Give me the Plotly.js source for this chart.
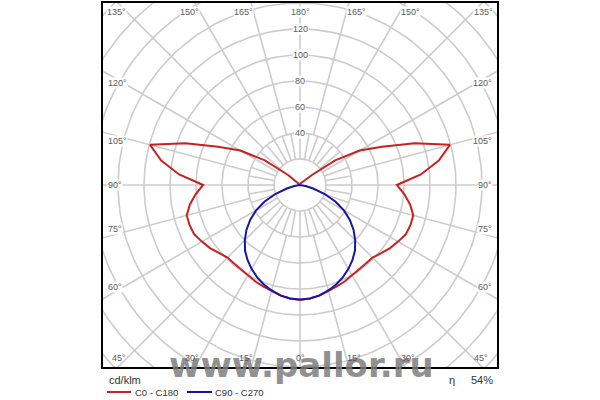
<!DOCTYPE html>
<html>
<head>
<meta charset="utf-8">
<script src="https://cdn.plot.ly/plotly-3.0.1.min.js"></script>
<style>html,body{margin:0;padding:0;background:#fff;}#chart{width:600px;height:400px;}</style>
</head>
<body>
<div id="chart"></div>
<script>
// ---------------- data ----------------
const gammaAngles = [0,5,10,15,20,25,30,35,40,45,50,55,60,65,70,75,80,85,90,95,100,105,110,115,120,125,130,135,140,145,150,155,160,165,170,175,180];
const c0c180 = [88.5,87.6,86.4,84.6,83.0,81.7,80.4,79.2,78.8,78.9,81.6,84.6,87.1,89.8,90.4,90.2,86.0,80.5,74.5,93.3,108.4,119.4,93.8,69.5,53.0,33.0,12.0,2.0,1,1,1,1,1,1,1,1,1];
const c90c270 = [88.0,87.6,86.2,84.0,81.4,78.2,74.5,70.4,65.8,60.0,53.8,46.8,39.0,30.0,19.8,10.5,4.5,1.5,0.5,0,0,0,0,0,0,0,0,0,0,0,0,0,0,0,0,0,0];
const seriesNames = ['C0 - C180', 'C90 - C270'];
const seriesColors = ['#c62222', '#1616a2'];
const radialTickValues = [40, 60, 80, 100, 120];
const gridRadii = [20, 40, 60, 80, 100, 120, 140, 160, 180, 200];
const angleTickValues = [0, 15, 30, 45, 60, 75, 90, 105, 120, 135, 150, 165, 180];
const innerSpokeStep = 10;
const unitLabel = 'cd/klm';
const efficiencyLabel = '\u03B7';
const efficiencyValue = '54%';
const watermarkText = 'www.pallor.ru';

// ---------------- geometry ----------------
const PL = 103, PR = 497, PT = 3, PB = 367, CX = 300, CY = 185, K = 1.3;
const xp = px => (px - PL) / (PR - PL);
const yp = py => (PB - py) / (PB - PT);
const rad = g => g * Math.PI / 180;

function halfCurve(vals, side) {
  const xs = [], ys = [];
  gammaAngles.forEach((g, i) => { xs.push(side * vals[i] * Math.sin(rad(g))); ys.push(-vals[i] * Math.cos(rad(g))); });
  return {xs, ys};
}
function fullCurve(vals) {
  const r = halfCurve(vals, 1), l = halfCurve(vals, -1);
  return {x: r.xs.concat(l.xs.slice().reverse()), y: r.ys.concat(l.ys.slice().reverse())};
}

// grid
const gx = [], gy = [];
gridRadii.forEach(R => {
  for (let a = 0; a <= 360; a += 2) { gx.push(R * Math.sin(rad(a))); gy.push(-R * Math.cos(rad(a))); }
  gx.push(null); gy.push(null);
});
for (let a = 0; a < 360; a += 15) {
  gx.push(40 * Math.sin(rad(a)), 300 * Math.sin(rad(a)), null);
  gy.push(-40 * Math.cos(rad(a)), -300 * Math.cos(rad(a)), null);
}
for (let a = 0; a < 360; a += innerSpokeStep) {
  gx.push(20 * Math.sin(rad(a)), 40 * Math.sin(rad(a)), null);
  gy.push(-20 * Math.cos(rad(a)), -40 * Math.cos(rad(a)), null);
}

const red = fullCurve(c0c180), blue = fullCurve(c90c270);
const traces = [
  {x: gx, y: gy, type: 'scatter', mode: 'lines', line: {color: '#cccccc', width: 1.6}, hoverinfo: 'skip', showlegend: false},
  {x: red.x, y: red.y, type: 'scatter', mode: 'lines', name: seriesNames[0], line: {color: seriesColors[0], width: 2}, showlegend: false},
  {x: blue.x, y: blue.y, type: 'scatter', mode: 'lines', name: seriesNames[1], line: {color: seriesColors[1], width: 2}, showlegend: false}
];

// annotations
const ann = [];
// watermark (behind labels)
ann.push({xref: 'paper', yref: 'paper', x: xp(301), y: yp(365), text: '<b>' + watermarkText + '</b>', showarrow: false,
  xanchor: 'center', yanchor: 'middle', font: {family: 'DejaVu Sans, sans-serif', size: 34, color: 'rgba(125,125,125,0.85)'}});

const labFont = {family: 'Liberation Sans, Arial, sans-serif', size: 9, color: '#5a5a5a'};
radialTickValues.forEach(v => {
  ann.push({xref: 'paper', yref: 'paper', x: xp(CX), y: yp(CY - v * K), text: String(v), showarrow: false,
    xanchor: 'center', yanchor: 'middle', font: labFont, bgcolor: '#ffffff', borderpad: 0});
});
angleTickValues.forEach(g => {
  const sides = (g === 0 || g === 180) ? [0] : [-1, 1];
  sides.forEach(side => {
    let px, py, xa, ya;
    if (g >= 135 || g <= 45) {
      py = g >= 135 ? 11.7 : 358;
      const t = (py - CY) / Math.cos(rad(g));
      px = CX + side * t * Math.sin(rad(g));
      xa = side < 0 ? 'right' : (side > 0 ? 'left' : 'center');
      ya = 'middle';
    } else {
      px = side < 0 ? 107 : 493;
      py = CY + 187 * Math.cos(rad(g)) / Math.sin(rad(g));
      xa = side < 0 ? 'left' : 'right';
      ya = g > 90 ? 'top' : (g < 90 ? 'bottom' : 'middle');
    }
    const a = {xref: 'paper', yref: 'paper', x: xp(px), y: yp(py), text: g + '\u00B0', showarrow: false,
      xanchor: xa, yanchor: ya, font: labFont, borderpad: 0};
    if (g > 45) a.bgcolor = '#ffffff';
    ann.push(a);
  });
});
// unit and legend texts
const txtFont = {family: 'Liberation Sans, Arial, sans-serif', size: 11, color: '#333333'};
const legFont = {family: 'Liberation Sans, Arial, sans-serif', size: 9.5, color: '#333333'};
ann.push({xref: 'paper', yref: 'paper', x: xp(107), y: yp(379.5), text: unitLabel, showarrow: false, xanchor: 'left', yanchor: 'middle', font: txtFont});
ann.push({xref: 'paper', yref: 'paper', x: xp(133), y: yp(392), text: seriesNames[0], showarrow: false, xanchor: 'left', yanchor: 'middle', font: legFont});
ann.push({xref: 'paper', yref: 'paper', x: xp(213), y: yp(392), text: seriesNames[1], showarrow: false, xanchor: 'left', yanchor: 'middle', font: legFont});
ann.push({xref: 'paper', yref: 'paper', x: xp(452), y: yp(380), text: efficiencyLabel, showarrow: false, xanchor: 'center', yanchor: 'middle', font: txtFont});
ann.push({xref: 'paper', yref: 'paper', x: xp(469), y: yp(380), text: efficiencyValue, showarrow: false, xanchor: 'left', yanchor: 'middle', font: txtFont});

const shapes = [
  {type: 'line', xref: 'paper', yref: 'paper', x0: xp(107), x1: xp(131), y0: yp(392), y1: yp(392), line: {color: seriesColors[0], width: 2}},
  {type: 'line', xref: 'paper', yref: 'paper', x0: xp(187), x1: xp(212), y0: yp(392), y1: yp(392), line: {color: seriesColors[1], width: 2}}
];

const layout = {
  width: 600, height: 400,
  margin: {l: PL, r: 600 - PR, t: PT, b: 400 - PB, pad: 0},
  paper_bgcolor: '#ffffff', plot_bgcolor: '#ffffff',
  showlegend: false,
  xaxis: {range: [(PL - CX) / K, (PR - CX) / K], showgrid: false, zeroline: false, showticklabels: false, ticks: '',
    showline: true, mirror: true, linecolor: '#000000', linewidth: 2, fixedrange: true},
  yaxis: {range: [(CY - PB) / K, (CY - PT) / K], showgrid: false, zeroline: false, showticklabels: false, ticks: '',
    showline: true, mirror: true, linecolor: '#000000', linewidth: 2, fixedrange: true},
  annotations: ann,
  shapes: shapes
};
Plotly.newPlot('chart', traces, layout, {displayModeBar: false, staticPlot: true});
</script>
</body>
</html>
